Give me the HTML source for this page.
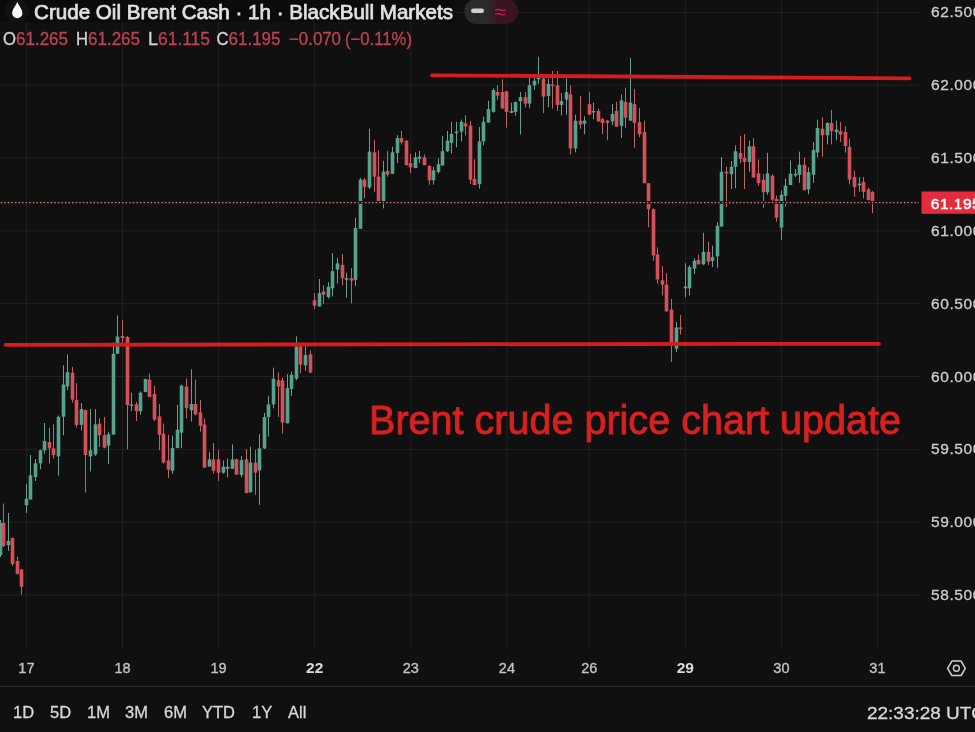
<!DOCTYPE html>
<html><head><meta charset="utf-8"><style>
html,body{margin:0;padding:0;background:#101010;width:975px;height:732px;overflow:hidden}
svg{position:absolute;left:0;top:0;display:block;filter:blur(0.4px)}
text{font-family:"Liberation Sans",sans-serif}
.pl{font-size:15.5px;fill:#cdcdcd;stroke:#cdcdcd;stroke-width:0.3px;letter-spacing:0.6px}
.tl{font-size:14.5px;fill:#c2c2c2;stroke:#c2c2c2;stroke-width:0.35px}
.b{font-weight:bold;font-size:15.5px;fill:#dadada;stroke:none}
.bb{font-size:16.5px;fill:#d8d8d8;stroke:#d8d8d8;stroke-width:0.3px}
</style></head><body>
<svg width="975" height="732" viewBox="0 0 975 732">
<rect width="975" height="732" fill="#101010"/>
<rect x="0" y="11.8" width="921" height="1" fill="#222222"/>
<rect x="0" y="84.6" width="921" height="1" fill="#222222"/>
<rect x="0" y="157.5" width="921" height="1" fill="#222222"/>
<rect x="0" y="230.3" width="921" height="1" fill="#222222"/>
<rect x="0" y="303.2" width="921" height="1" fill="#222222"/>
<rect x="0" y="376.0" width="921" height="1" fill="#222222"/>
<rect x="0" y="448.9" width="921" height="1" fill="#222222"/>
<rect x="0" y="521.7" width="921" height="1" fill="#222222"/>
<rect x="0" y="594.6" width="921" height="1" fill="#222222"/>
<rect x="25.9" y="0" width="1" height="649" fill="#222222"/>
<rect x="122.0" y="0" width="1" height="649" fill="#222222"/>
<rect x="218.1" y="0" width="1" height="649" fill="#222222"/>
<rect x="314.2" y="0" width="1" height="649" fill="#222222"/>
<rect x="410.3" y="0" width="1" height="649" fill="#222222"/>
<rect x="506.4" y="0" width="1" height="649" fill="#222222"/>
<rect x="588.7" y="0" width="1" height="649" fill="#222222"/>
<rect x="684.8" y="0" width="1" height="649" fill="#222222"/>
<rect x="780.9" y="0" width="1" height="649" fill="#222222"/>
<rect x="876.9" y="0" width="1" height="649" fill="#222222"/>
<g>
<rect x="0" y="520.0" width="1" height="37.0" fill="#6a9e90"/>
<rect x="-1.3" y="523.0" width="3.6" height="32.0" fill="#55a38d"/>
<rect x="3" y="503.6" width="1" height="43.4" fill="#c0646c"/>
<rect x="1.7" y="523.0" width="3.6" height="23.0" fill="#d6505a"/>
<rect x="8" y="513.0" width="1" height="38.0" fill="#6a9e90"/>
<rect x="6.7" y="540.9" width="3.6" height="4.3" fill="#55a38d"/>
<rect x="12" y="537.3" width="1" height="28.7" fill="#c0646c"/>
<rect x="10.7" y="538.0" width="3.6" height="25.9" fill="#d6505a"/>
<rect x="17" y="556.7" width="1" height="17.8" fill="#c0646c"/>
<rect x="15.7" y="561.0" width="3.6" height="12.9" fill="#d6505a"/>
<rect x="21" y="568.9" width="1" height="25.8" fill="#c0646c"/>
<rect x="19.7" y="569.6" width="3.6" height="17.2" fill="#d6505a"/>
<rect x="26" y="483.8" width="1" height="29.2" fill="#6a9e90"/>
<rect x="24.7" y="498.7" width="3.6" height="6.6" fill="#55a38d"/>
<rect x="30" y="455.0" width="1" height="44.5" fill="#6a9e90"/>
<rect x="28.7" y="475.3" width="3.6" height="24.2" fill="#55a38d"/>
<rect x="35" y="459.0" width="1" height="22.0" fill="#6a9e90"/>
<rect x="33.7" y="463.3" width="3.6" height="13.7" fill="#55a38d"/>
<rect x="40" y="449.6" width="1" height="19.8" fill="#6a9e90"/>
<rect x="38.7" y="450.3" width="3.6" height="13.0" fill="#55a38d"/>
<rect x="44" y="423.0" width="1" height="30.7" fill="#6a9e90"/>
<rect x="42.7" y="441.0" width="3.6" height="9.3" fill="#55a38d"/>
<rect x="49" y="427.8" width="1" height="35.7" fill="#c0646c"/>
<rect x="47.7" y="442.0" width="3.6" height="6.3" fill="#d6505a"/>
<rect x="53" y="424.3" width="1" height="34.2" fill="#c0646c"/>
<rect x="51.7" y="448.3" width="3.6" height="6.7" fill="#d6505a"/>
<rect x="58" y="415.5" width="1" height="60.1" fill="#6a9e90"/>
<rect x="56.7" y="416.8" width="3.6" height="39.6" fill="#55a38d"/>
<rect x="63" y="365.3" width="1" height="69.9" fill="#6a9e90"/>
<rect x="61.7" y="384.5" width="3.6" height="32.2" fill="#55a38d"/>
<rect x="67" y="354.4" width="1" height="35.6" fill="#6a9e90"/>
<rect x="65.7" y="372.2" width="3.6" height="14.3" fill="#55a38d"/>
<rect x="72" y="366.7" width="1" height="35.9" fill="#c0646c"/>
<rect x="70.7" y="372.8" width="3.6" height="26.8" fill="#d6505a"/>
<rect x="76" y="383.1" width="1" height="44.5" fill="#c0646c"/>
<rect x="74.7" y="400.0" width="3.6" height="25.0" fill="#d6505a"/>
<rect x="81" y="403.0" width="1" height="27.4" fill="#6a9e90"/>
<rect x="79.7" y="409.1" width="3.6" height="15.7" fill="#55a38d"/>
<rect x="85" y="409.8" width="1" height="82.8" fill="#c0646c"/>
<rect x="83.7" y="410.1" width="3.6" height="44.9" fill="#d6505a"/>
<rect x="90" y="409.1" width="1" height="62.4" fill="#6a9e90"/>
<rect x="88.7" y="450.3" width="3.6" height="6.1" fill="#55a38d"/>
<rect x="95" y="409.1" width="1" height="46.9" fill="#6a9e90"/>
<rect x="93.7" y="424.4" width="3.6" height="30.0" fill="#55a38d"/>
<rect x="99" y="418.2" width="1" height="28.7" fill="#c0646c"/>
<rect x="97.7" y="423.8" width="3.6" height="11.4" fill="#d6505a"/>
<rect x="104" y="417.0" width="1" height="31.3" fill="#c0646c"/>
<rect x="102.7" y="435.2" width="3.6" height="12.4" fill="#d6505a"/>
<rect x="108" y="431.8" width="1" height="32.2" fill="#6a9e90"/>
<rect x="106.7" y="434.2" width="3.6" height="11.4" fill="#55a38d"/>
<rect x="113" y="342.1" width="1" height="92.5" fill="#6a9e90"/>
<rect x="111.7" y="353.7" width="3.6" height="80.9" fill="#55a38d"/>
<rect x="117" y="315.5" width="1" height="38.2" fill="#6a9e90"/>
<rect x="115.7" y="336.6" width="3.6" height="17.1" fill="#55a38d"/>
<rect x="122" y="320.2" width="1" height="22.6" fill="#c0646c"/>
<rect x="120.7" y="336.0" width="3.6" height="2.0" fill="#d6505a"/>
<rect x="127" y="336.0" width="1" height="113.4" fill="#c0646c"/>
<rect x="125.7" y="337.0" width="3.6" height="68.0" fill="#d6505a"/>
<rect x="131" y="392.7" width="1" height="18.4" fill="#6a9e90"/>
<rect x="129.7" y="404.4" width="3.6" height="1.5" fill="#55a38d"/>
<rect x="136" y="401.9" width="1" height="19.1" fill="#c0646c"/>
<rect x="134.7" y="404.4" width="3.6" height="6.7" fill="#d6505a"/>
<rect x="140" y="391.4" width="1" height="23.4" fill="#6a9e90"/>
<rect x="138.7" y="392.7" width="3.6" height="18.4" fill="#55a38d"/>
<rect x="145" y="378.5" width="1" height="13.6" fill="#6a9e90"/>
<rect x="143.7" y="379.1" width="3.6" height="13.0" fill="#55a38d"/>
<rect x="149" y="373.5" width="1" height="23.5" fill="#c0646c"/>
<rect x="147.7" y="379.7" width="3.6" height="17.3" fill="#d6505a"/>
<rect x="154" y="385.5" width="1" height="35.5" fill="#c0646c"/>
<rect x="152.7" y="393.9" width="3.6" height="25.7" fill="#d6505a"/>
<rect x="159" y="404.0" width="1" height="46.2" fill="#c0646c"/>
<rect x="157.7" y="416.4" width="3.6" height="18.4" fill="#d6505a"/>
<rect x="163" y="423.5" width="1" height="40.0" fill="#c0646c"/>
<rect x="161.7" y="433.8" width="3.6" height="28.7" fill="#d6505a"/>
<rect x="168" y="434.8" width="1" height="43.0" fill="#c0646c"/>
<rect x="166.7" y="460.4" width="3.6" height="9.2" fill="#d6505a"/>
<rect x="172" y="435.8" width="1" height="37.9" fill="#6a9e90"/>
<rect x="170.7" y="448.1" width="3.6" height="22.6" fill="#55a38d"/>
<rect x="177" y="405.0" width="1" height="43.1" fill="#6a9e90"/>
<rect x="175.7" y="429.7" width="3.6" height="18.4" fill="#55a38d"/>
<rect x="181" y="384.6" width="1" height="63.5" fill="#6a9e90"/>
<rect x="179.7" y="385.6" width="3.6" height="47.1" fill="#55a38d"/>
<rect x="186" y="378.4" width="1" height="40.0" fill="#c0646c"/>
<rect x="184.7" y="386.6" width="3.6" height="21.6" fill="#d6505a"/>
<rect x="191" y="369.2" width="1" height="52.3" fill="#6a9e90"/>
<rect x="189.7" y="404.0" width="3.6" height="6.2" fill="#55a38d"/>
<rect x="195" y="379.5" width="1" height="35.8" fill="#c0646c"/>
<rect x="193.7" y="404.0" width="3.6" height="10.3" fill="#d6505a"/>
<rect x="200" y="400.0" width="1" height="31.7" fill="#c0646c"/>
<rect x="198.7" y="412.3" width="3.6" height="13.3" fill="#d6505a"/>
<rect x="204" y="418.4" width="1" height="49.2" fill="#c0646c"/>
<rect x="202.7" y="424.5" width="3.6" height="43.1" fill="#d6505a"/>
<rect x="209" y="452.2" width="1" height="14.4" fill="#6a9e90"/>
<rect x="207.7" y="459.4" width="3.6" height="7.2" fill="#55a38d"/>
<rect x="213" y="443.0" width="1" height="30.7" fill="#c0646c"/>
<rect x="211.7" y="459.4" width="3.6" height="11.3" fill="#d6505a"/>
<rect x="218" y="450.2" width="1" height="30.7" fill="#c0646c"/>
<rect x="216.7" y="459.4" width="3.6" height="13.3" fill="#d6505a"/>
<rect x="223" y="460.4" width="1" height="13.3" fill="#6a9e90"/>
<rect x="221.7" y="466.6" width="3.6" height="6.1" fill="#55a38d"/>
<rect x="227" y="458.6" width="1" height="18.8" fill="#6a9e90"/>
<rect x="225.7" y="466.8" width="3.6" height="2.0" fill="#55a38d"/>
<rect x="232" y="444.3" width="1" height="24.5" fill="#6a9e90"/>
<rect x="230.7" y="459.4" width="3.6" height="9.4" fill="#55a38d"/>
<rect x="236" y="458.5" width="1" height="16.5" fill="#c0646c"/>
<rect x="234.7" y="459.4" width="3.6" height="15.1" fill="#d6505a"/>
<rect x="241" y="456.2" width="1" height="21.2" fill="#6a9e90"/>
<rect x="239.7" y="460.1" width="3.6" height="14.9" fill="#55a38d"/>
<rect x="246" y="449.2" width="1" height="43.9" fill="#c0646c"/>
<rect x="244.7" y="459.4" width="3.6" height="33.7" fill="#d6505a"/>
<rect x="250" y="446.8" width="1" height="45.5" fill="#6a9e90"/>
<rect x="248.7" y="462.5" width="3.6" height="29.8" fill="#55a38d"/>
<rect x="255" y="450.0" width="1" height="44.7" fill="#c0646c"/>
<rect x="253.7" y="462.5" width="3.6" height="10.2" fill="#d6505a"/>
<rect x="259" y="434.2" width="1" height="70.7" fill="#6a9e90"/>
<rect x="257.7" y="448.4" width="3.6" height="22.0" fill="#55a38d"/>
<rect x="264" y="413.0" width="1" height="36.0" fill="#6a9e90"/>
<rect x="262.7" y="417.0" width="3.6" height="31.4" fill="#55a38d"/>
<rect x="268" y="395.8" width="1" height="40.8" fill="#6a9e90"/>
<rect x="266.7" y="404.4" width="3.6" height="12.6" fill="#55a38d"/>
<rect x="273" y="367.7" width="1" height="40.6" fill="#6a9e90"/>
<rect x="271.7" y="378.7" width="3.6" height="25.7" fill="#55a38d"/>
<rect x="278" y="372.4" width="1" height="44.6" fill="#c0646c"/>
<rect x="276.7" y="380.3" width="3.6" height="6.2" fill="#d6505a"/>
<rect x="282" y="378.0" width="1" height="55.5" fill="#c0646c"/>
<rect x="280.7" y="380.3" width="3.6" height="42.2" fill="#d6505a"/>
<rect x="287" y="374.0" width="1" height="49.3" fill="#6a9e90"/>
<rect x="285.7" y="388.1" width="3.6" height="35.2" fill="#55a38d"/>
<rect x="291" y="371.6" width="1" height="24.4" fill="#6a9e90"/>
<rect x="289.7" y="374.8" width="3.6" height="14.1" fill="#55a38d"/>
<rect x="296" y="336.3" width="1" height="44.0" fill="#6a9e90"/>
<rect x="294.7" y="346.5" width="3.6" height="32.2" fill="#55a38d"/>
<rect x="300" y="346.5" width="1" height="26.7" fill="#c0646c"/>
<rect x="298.7" y="346.5" width="3.6" height="18.1" fill="#d6505a"/>
<rect x="305" y="346.5" width="1" height="24.3" fill="#6a9e90"/>
<rect x="303.7" y="355.1" width="3.6" height="10.3" fill="#55a38d"/>
<rect x="310" y="350.4" width="1" height="22.8" fill="#c0646c"/>
<rect x="308.7" y="354.4" width="3.6" height="18.0" fill="#d6505a"/>
<rect x="314" y="293.1" width="1" height="15.7" fill="#c0646c"/>
<rect x="312.7" y="300.2" width="3.6" height="5.5" fill="#d6505a"/>
<rect x="319" y="279.0" width="1" height="27.5" fill="#6a9e90"/>
<rect x="317.7" y="293.1" width="3.6" height="13.4" fill="#55a38d"/>
<rect x="323" y="285.3" width="1" height="18.8" fill="#c0646c"/>
<rect x="321.7" y="291.5" width="3.6" height="3.2" fill="#d6505a"/>
<rect x="328" y="282.1" width="1" height="16.5" fill="#6a9e90"/>
<rect x="326.7" y="286.8" width="3.6" height="10.2" fill="#55a38d"/>
<rect x="332" y="253.1" width="1" height="43.2" fill="#6a9e90"/>
<rect x="330.7" y="271.1" width="3.6" height="17.3" fill="#55a38d"/>
<rect x="337" y="257.8" width="1" height="25.9" fill="#6a9e90"/>
<rect x="335.7" y="263.3" width="3.6" height="6.3" fill="#55a38d"/>
<rect x="342" y="253.9" width="1" height="31.4" fill="#c0646c"/>
<rect x="340.7" y="264.9" width="3.6" height="13.3" fill="#d6505a"/>
<rect x="346" y="272.7" width="1" height="25.1" fill="#6a9e90"/>
<rect x="344.7" y="278.2" width="3.6" height="1.6" fill="#55a38d"/>
<rect x="351" y="268.0" width="1" height="35.3" fill="#c0646c"/>
<rect x="349.7" y="278.2" width="3.6" height="2.4" fill="#d6505a"/>
<rect x="355" y="217.8" width="1" height="68.2" fill="#6a9e90"/>
<rect x="353.7" y="228.0" width="3.6" height="51.8" fill="#55a38d"/>
<rect x="360" y="178.1" width="1" height="50.7" fill="#6a9e90"/>
<rect x="358.7" y="179.6" width="3.6" height="49.2" fill="#55a38d"/>
<rect x="364" y="178.1" width="1" height="20.1" fill="#c0646c"/>
<rect x="362.7" y="179.6" width="3.6" height="7.2" fill="#d6505a"/>
<rect x="369" y="128.7" width="1" height="60.2" fill="#6a9e90"/>
<rect x="367.7" y="151.6" width="3.6" height="35.9" fill="#55a38d"/>
<rect x="374" y="140.1" width="1" height="51.7" fill="#c0646c"/>
<rect x="372.7" y="152.3" width="3.6" height="24.4" fill="#d6505a"/>
<rect x="378" y="150.2" width="1" height="53.1" fill="#c0646c"/>
<rect x="376.7" y="176.7" width="3.6" height="26.6" fill="#d6505a"/>
<rect x="383" y="160.9" width="1" height="47.4" fill="#6a9e90"/>
<rect x="381.7" y="171.7" width="3.6" height="31.6" fill="#55a38d"/>
<rect x="387" y="150.9" width="1" height="25.8" fill="#c0646c"/>
<rect x="385.7" y="171.0" width="3.6" height="3.6" fill="#d6505a"/>
<rect x="392" y="146.6" width="1" height="27.2" fill="#6a9e90"/>
<rect x="390.7" y="152.3" width="3.6" height="21.5" fill="#55a38d"/>
<rect x="397" y="135.1" width="1" height="28.0" fill="#6a9e90"/>
<rect x="395.7" y="138.0" width="3.6" height="15.0" fill="#55a38d"/>
<rect x="401" y="130.8" width="1" height="13.6" fill="#c0646c"/>
<rect x="399.7" y="138.0" width="3.6" height="4.3" fill="#d6505a"/>
<rect x="406" y="140.1" width="1" height="25.1" fill="#c0646c"/>
<rect x="404.7" y="140.8" width="3.6" height="24.4" fill="#d6505a"/>
<rect x="410" y="153.8" width="1" height="19.3" fill="#c0646c"/>
<rect x="408.7" y="163.1" width="3.6" height="4.3" fill="#d6505a"/>
<rect x="415" y="152.3" width="1" height="15.8" fill="#6a9e90"/>
<rect x="413.7" y="157.3" width="3.6" height="10.8" fill="#55a38d"/>
<rect x="419" y="150.9" width="1" height="12.2" fill="#6a9e90"/>
<rect x="417.7" y="156.6" width="3.6" height="2.2" fill="#55a38d"/>
<rect x="424" y="154.5" width="1" height="10.7" fill="#c0646c"/>
<rect x="422.7" y="157.3" width="3.6" height="7.9" fill="#d6505a"/>
<rect x="429" y="165.2" width="1" height="19.4" fill="#c0646c"/>
<rect x="427.7" y="166.0" width="3.6" height="14.3" fill="#d6505a"/>
<rect x="433" y="166.7" width="1" height="17.9" fill="#6a9e90"/>
<rect x="431.7" y="170.3" width="3.6" height="10.0" fill="#55a38d"/>
<rect x="438" y="158.4" width="1" height="15.3" fill="#6a9e90"/>
<rect x="436.7" y="164.2" width="3.6" height="7.8" fill="#55a38d"/>
<rect x="442" y="136.1" width="1" height="29.4" fill="#6a9e90"/>
<rect x="440.7" y="151.2" width="3.6" height="14.3" fill="#55a38d"/>
<rect x="447" y="130.9" width="1" height="21.0" fill="#6a9e90"/>
<rect x="445.7" y="140.6" width="3.6" height="10.6" fill="#55a38d"/>
<rect x="451" y="121.8" width="1" height="31.6" fill="#6a9e90"/>
<rect x="449.7" y="133.9" width="3.6" height="9.0" fill="#55a38d"/>
<rect x="456" y="121.8" width="1" height="25.6" fill="#6a9e90"/>
<rect x="454.7" y="131.6" width="3.6" height="1.5" fill="#55a38d"/>
<rect x="461" y="119.6" width="1" height="21.8" fill="#6a9e90"/>
<rect x="459.7" y="121.8" width="3.6" height="9.8" fill="#55a38d"/>
<rect x="465" y="115.1" width="1" height="20.3" fill="#c0646c"/>
<rect x="463.7" y="123.3" width="3.6" height="3.1" fill="#d6505a"/>
<rect x="470" y="121.1" width="1" height="63.1" fill="#c0646c"/>
<rect x="468.7" y="125.6" width="3.6" height="54.1" fill="#d6505a"/>
<rect x="474" y="159.4" width="1" height="25.6" fill="#c0646c"/>
<rect x="472.7" y="179.0" width="3.6" height="6.0" fill="#d6505a"/>
<rect x="479" y="127.1" width="1" height="61.7" fill="#6a9e90"/>
<rect x="477.7" y="141.4" width="3.6" height="42.8" fill="#55a38d"/>
<rect x="483" y="116.6" width="1" height="28.6" fill="#6a9e90"/>
<rect x="481.7" y="121.8" width="3.6" height="19.6" fill="#55a38d"/>
<rect x="488" y="100.8" width="1" height="21.8" fill="#6a9e90"/>
<rect x="486.7" y="109.1" width="3.6" height="13.5" fill="#55a38d"/>
<rect x="493" y="88.3" width="1" height="24.5" fill="#6a9e90"/>
<rect x="491.7" y="90.0" width="3.6" height="21.9" fill="#55a38d"/>
<rect x="497" y="85.2" width="1" height="15.0" fill="#c0646c"/>
<rect x="495.7" y="92.0" width="3.6" height="3.7" fill="#d6505a"/>
<rect x="502" y="79.3" width="1" height="29.2" fill="#c0646c"/>
<rect x="500.7" y="92.0" width="3.6" height="16.5" fill="#d6505a"/>
<rect x="506" y="91.2" width="1" height="36.4" fill="#c0646c"/>
<rect x="504.7" y="91.2" width="3.6" height="20.7" fill="#d6505a"/>
<rect x="511" y="102.8" width="1" height="10.4" fill="#6a9e90"/>
<rect x="509.7" y="111.0" width="3.6" height="1.8" fill="#55a38d"/>
<rect x="515" y="101.3" width="1" height="14.3" fill="#6a9e90"/>
<rect x="513.7" y="102.1" width="3.6" height="9.8" fill="#55a38d"/>
<rect x="520" y="92.0" width="1" height="42.4" fill="#6a9e90"/>
<rect x="518.7" y="97.2" width="3.6" height="4.1" fill="#55a38d"/>
<rect x="525" y="92.0" width="1" height="15.4" fill="#c0646c"/>
<rect x="523.7" y="97.2" width="3.6" height="6.4" fill="#d6505a"/>
<rect x="529" y="77.8" width="1" height="30.3" fill="#6a9e90"/>
<rect x="527.7" y="85.2" width="3.6" height="18.4" fill="#55a38d"/>
<rect x="534" y="74.1" width="1" height="15.7" fill="#6a9e90"/>
<rect x="532.7" y="80.8" width="3.6" height="4.5" fill="#55a38d"/>
<rect x="538" y="56.8" width="1" height="27.0" fill="#6a9e90"/>
<rect x="536.7" y="77.8" width="3.6" height="1.5" fill="#55a38d"/>
<rect x="543" y="77.1" width="1" height="36.1" fill="#c0646c"/>
<rect x="541.7" y="78.6" width="3.6" height="18.0" fill="#d6505a"/>
<rect x="548" y="78.6" width="1" height="28.5" fill="#6a9e90"/>
<rect x="546.7" y="83.8" width="3.6" height="12.1" fill="#55a38d"/>
<rect x="552" y="71.0" width="1" height="37.6" fill="#c0646c"/>
<rect x="550.7" y="84.6" width="3.6" height="1.5" fill="#d6505a"/>
<rect x="557" y="71.0" width="1" height="39.9" fill="#c0646c"/>
<rect x="555.7" y="85.3" width="3.6" height="19.6" fill="#d6505a"/>
<rect x="561" y="92.9" width="1" height="22.5" fill="#6a9e90"/>
<rect x="559.7" y="101.1" width="3.6" height="3.8" fill="#55a38d"/>
<rect x="566" y="78.6" width="1" height="36.1" fill="#6a9e90"/>
<rect x="564.7" y="92.1" width="3.6" height="7.5" fill="#55a38d"/>
<rect x="570" y="85.3" width="1" height="69.2" fill="#c0646c"/>
<rect x="568.7" y="94.4" width="3.6" height="54.1" fill="#d6505a"/>
<rect x="575" y="114.7" width="1" height="37.6" fill="#6a9e90"/>
<rect x="573.7" y="120.7" width="3.6" height="27.8" fill="#55a38d"/>
<rect x="580" y="95.9" width="1" height="33.0" fill="#c0646c"/>
<rect x="578.7" y="120.7" width="3.6" height="3.7" fill="#d6505a"/>
<rect x="584" y="116.2" width="1" height="18.0" fill="#6a9e90"/>
<rect x="582.7" y="120.7" width="3.6" height="3.0" fill="#55a38d"/>
<rect x="589" y="92.1" width="1" height="22.6" fill="#c0646c"/>
<rect x="587.7" y="104.1" width="3.6" height="10.6" fill="#d6505a"/>
<rect x="593" y="102.6" width="1" height="16.6" fill="#6a9e90"/>
<rect x="591.7" y="110.9" width="3.6" height="1.5" fill="#55a38d"/>
<rect x="598" y="108.6" width="1" height="12.8" fill="#c0646c"/>
<rect x="596.7" y="110.9" width="3.6" height="10.5" fill="#d6505a"/>
<rect x="602" y="117.7" width="1" height="16.5" fill="#c0646c"/>
<rect x="600.7" y="119.2" width="3.6" height="3.7" fill="#d6505a"/>
<rect x="607" y="119.9" width="1" height="20.3" fill="#c0646c"/>
<rect x="605.7" y="120.7" width="3.6" height="2.2" fill="#d6505a"/>
<rect x="612" y="104.1" width="1" height="21.1" fill="#6a9e90"/>
<rect x="610.7" y="113.9" width="3.6" height="7.5" fill="#55a38d"/>
<rect x="616" y="101.9" width="1" height="24.8" fill="#c0646c"/>
<rect x="614.7" y="110.9" width="3.6" height="15.8" fill="#d6505a"/>
<rect x="621" y="94.4" width="1" height="43.6" fill="#6a9e90"/>
<rect x="619.7" y="100.4" width="3.6" height="25.5" fill="#55a38d"/>
<rect x="625" y="87.6" width="1" height="40.6" fill="#c0646c"/>
<rect x="623.7" y="101.9" width="3.6" height="15.8" fill="#d6505a"/>
<rect x="630" y="58.3" width="1" height="62.4" fill="#6a9e90"/>
<rect x="628.7" y="102.6" width="3.6" height="18.1" fill="#55a38d"/>
<rect x="634" y="89.1" width="1" height="58.7" fill="#c0646c"/>
<rect x="632.7" y="104.1" width="3.6" height="18.8" fill="#d6505a"/>
<rect x="639" y="107.9" width="1" height="29.3" fill="#c0646c"/>
<rect x="637.7" y="122.2" width="3.6" height="12.0" fill="#d6505a"/>
<rect x="644" y="120.7" width="1" height="62.5" fill="#c0646c"/>
<rect x="642.7" y="132.0" width="3.6" height="51.2" fill="#d6505a"/>
<rect x="648" y="183.2" width="1" height="44.1" fill="#c0646c"/>
<rect x="646.7" y="183.2" width="3.6" height="26.0" fill="#d6505a"/>
<rect x="653" y="208.5" width="1" height="52.3" fill="#c0646c"/>
<rect x="651.7" y="209.2" width="3.6" height="46.2" fill="#d6505a"/>
<rect x="657" y="247.4" width="1" height="36.4" fill="#c0646c"/>
<rect x="655.7" y="254.5" width="3.6" height="24.9" fill="#d6505a"/>
<rect x="662" y="266.1" width="1" height="29.3" fill="#c0646c"/>
<rect x="660.7" y="280.3" width="3.6" height="4.4" fill="#d6505a"/>
<rect x="666" y="273.2" width="1" height="38.2" fill="#c0646c"/>
<rect x="664.7" y="284.7" width="3.6" height="26.7" fill="#d6505a"/>
<rect x="671" y="299.0" width="1" height="63.0" fill="#c0646c"/>
<rect x="669.7" y="309.6" width="3.6" height="36.4" fill="#d6505a"/>
<rect x="676" y="322.0" width="1" height="30.2" fill="#6a9e90"/>
<rect x="674.7" y="327.4" width="3.6" height="21.3" fill="#55a38d"/>
<rect x="680" y="314.9" width="1" height="19.6" fill="#c0646c"/>
<rect x="678.7" y="327.4" width="3.6" height="1.7" fill="#d6505a"/>
<rect x="685" y="263.4" width="1" height="33.8" fill="#6a9e90"/>
<rect x="683.7" y="286.5" width="3.6" height="1.8" fill="#55a38d"/>
<rect x="689" y="265.2" width="1" height="30.2" fill="#6a9e90"/>
<rect x="687.7" y="267.0" width="3.6" height="21.3" fill="#55a38d"/>
<rect x="694" y="258.1" width="1" height="15.9" fill="#6a9e90"/>
<rect x="692.7" y="260.8" width="3.6" height="7.9" fill="#55a38d"/>
<rect x="698" y="254.5" width="1" height="9.8" fill="#c0646c"/>
<rect x="696.7" y="259.9" width="3.6" height="4.4" fill="#d6505a"/>
<rect x="703" y="232.8" width="1" height="32.4" fill="#6a9e90"/>
<rect x="701.7" y="251.9" width="3.6" height="12.4" fill="#55a38d"/>
<rect x="708" y="241.6" width="1" height="23.6" fill="#c0646c"/>
<rect x="706.7" y="251.9" width="3.6" height="9.7" fill="#d6505a"/>
<rect x="712" y="245.7" width="1" height="21.3" fill="#6a9e90"/>
<rect x="710.7" y="257.2" width="3.6" height="3.6" fill="#55a38d"/>
<rect x="717" y="222.0" width="1" height="45.9" fill="#6a9e90"/>
<rect x="715.7" y="225.8" width="3.6" height="30.5" fill="#55a38d"/>
<rect x="721" y="157.0" width="1" height="69.6" fill="#6a9e90"/>
<rect x="719.7" y="171.7" width="3.6" height="54.9" fill="#55a38d"/>
<rect x="726" y="166.8" width="1" height="40.2" fill="#c0646c"/>
<rect x="724.7" y="171.7" width="3.6" height="1.7" fill="#d6505a"/>
<rect x="731" y="161.1" width="1" height="27.9" fill="#6a9e90"/>
<rect x="729.7" y="166.8" width="3.6" height="7.4" fill="#55a38d"/>
<rect x="735" y="145.5" width="1" height="42.6" fill="#6a9e90"/>
<rect x="733.7" y="151.2" width="3.6" height="15.6" fill="#55a38d"/>
<rect x="740" y="135.7" width="1" height="27.8" fill="#c0646c"/>
<rect x="738.7" y="152.9" width="3.6" height="5.7" fill="#d6505a"/>
<rect x="744" y="134.0" width="1" height="55.0" fill="#c0646c"/>
<rect x="742.7" y="157.8" width="3.6" height="4.1" fill="#d6505a"/>
<rect x="749" y="140.6" width="1" height="31.1" fill="#6a9e90"/>
<rect x="747.7" y="146.3" width="3.6" height="15.6" fill="#55a38d"/>
<rect x="753" y="138.1" width="1" height="39.4" fill="#c0646c"/>
<rect x="751.7" y="146.3" width="3.6" height="31.2" fill="#d6505a"/>
<rect x="758" y="159.4" width="1" height="26.3" fill="#c0646c"/>
<rect x="756.7" y="173.4" width="3.6" height="9.8" fill="#d6505a"/>
<rect x="763" y="174.2" width="1" height="33.6" fill="#c0646c"/>
<rect x="761.7" y="179.9" width="3.6" height="12.3" fill="#d6505a"/>
<rect x="767" y="152.9" width="1" height="41.8" fill="#6a9e90"/>
<rect x="765.7" y="173.4" width="3.6" height="18.8" fill="#55a38d"/>
<rect x="772" y="174.2" width="1" height="27.8" fill="#c0646c"/>
<rect x="770.7" y="175.8" width="3.6" height="23.8" fill="#d6505a"/>
<rect x="776" y="195.5" width="1" height="26.2" fill="#c0646c"/>
<rect x="774.7" y="198.8" width="3.6" height="18.8" fill="#d6505a"/>
<rect x="781" y="190.6" width="1" height="49.2" fill="#6a9e90"/>
<rect x="779.7" y="194.7" width="3.6" height="32.8" fill="#55a38d"/>
<rect x="785" y="178.6" width="1" height="27.7" fill="#6a9e90"/>
<rect x="783.7" y="185.5" width="3.6" height="10.3" fill="#55a38d"/>
<rect x="790" y="160.5" width="1" height="24.5" fill="#6a9e90"/>
<rect x="788.7" y="173.7" width="3.6" height="11.3" fill="#55a38d"/>
<rect x="795" y="168.9" width="1" height="8.2" fill="#6a9e90"/>
<rect x="793.7" y="173.9" width="3.6" height="1.6" fill="#55a38d"/>
<rect x="799" y="151.7" width="1" height="31.2" fill="#6a9e90"/>
<rect x="797.7" y="164.8" width="3.6" height="9.9" fill="#55a38d"/>
<rect x="804" y="157.5" width="1" height="32.7" fill="#c0646c"/>
<rect x="802.7" y="164.8" width="3.6" height="25.4" fill="#d6505a"/>
<rect x="808" y="167.3" width="1" height="27.0" fill="#6a9e90"/>
<rect x="806.7" y="172.2" width="3.6" height="17.2" fill="#55a38d"/>
<rect x="813" y="141.9" width="1" height="41.0" fill="#6a9e90"/>
<rect x="811.7" y="150.1" width="3.6" height="24.6" fill="#55a38d"/>
<rect x="817" y="119.8" width="1" height="37.7" fill="#6a9e90"/>
<rect x="815.7" y="128.0" width="3.6" height="24.5" fill="#55a38d"/>
<rect x="822" y="117.3" width="1" height="39.3" fill="#c0646c"/>
<rect x="820.7" y="128.8" width="3.6" height="6.5" fill="#d6505a"/>
<rect x="827" y="122.2" width="1" height="22.1" fill="#6a9e90"/>
<rect x="825.7" y="123.0" width="3.6" height="12.3" fill="#55a38d"/>
<rect x="831" y="109.9" width="1" height="34.4" fill="#c0646c"/>
<rect x="829.7" y="123.0" width="3.6" height="8.2" fill="#d6505a"/>
<rect x="836" y="120.6" width="1" height="19.6" fill="#6a9e90"/>
<rect x="834.7" y="129.6" width="3.6" height="2.4" fill="#55a38d"/>
<rect x="840" y="122.2" width="1" height="19.7" fill="#c0646c"/>
<rect x="838.7" y="131.2" width="3.6" height="3.3" fill="#d6505a"/>
<rect x="845" y="126.3" width="1" height="26.2" fill="#c0646c"/>
<rect x="843.7" y="132.0" width="3.6" height="14.0" fill="#d6505a"/>
<rect x="849" y="138.6" width="1" height="45.9" fill="#c0646c"/>
<rect x="847.7" y="146.8" width="3.6" height="32.8" fill="#d6505a"/>
<rect x="854" y="170.6" width="1" height="26.2" fill="#c0646c"/>
<rect x="852.7" y="177.1" width="3.6" height="9.9" fill="#d6505a"/>
<rect x="859" y="177.1" width="1" height="14.8" fill="#6a9e90"/>
<rect x="857.7" y="183.7" width="3.6" height="1.6" fill="#55a38d"/>
<rect x="863" y="177.1" width="1" height="21.3" fill="#c0646c"/>
<rect x="861.7" y="182.0" width="3.6" height="9.9" fill="#d6505a"/>
<rect x="868" y="187.8" width="1" height="12.3" fill="#c0646c"/>
<rect x="866.7" y="189.4" width="3.6" height="10.7" fill="#d6505a"/>
<rect x="872" y="191.1" width="1" height="22.1" fill="#c0646c"/>
<rect x="870.7" y="191.9" width="3.6" height="10.6" fill="#d6505a"/>
</g>
<line x1="0" y1="202.6" x2="919" y2="202.6" stroke="#221010" stroke-width="3"/>
<line x1="0" y1="202.6" x2="919" y2="202.6" stroke="#c08a7e" stroke-width="1.3" stroke-dasharray="1.4 2.17" stroke-dashoffset="-0.75"/>
<line x1="432" y1="75.3" x2="909.5" y2="78.3" stroke="#d61c1c" stroke-width="3.8" stroke-linecap="round"/>
<line x1="5.5" y1="344.8" x2="879" y2="343.8" stroke="#d61c1c" stroke-width="3.8" stroke-linecap="round"/>
<text x="931" y="17.3" class="pl">62.500</text>
<text x="931" y="90.1" class="pl">62.000</text>
<text x="931" y="163.0" class="pl">61.500</text>
<text x="931" y="235.8" class="pl">61.000</text>
<text x="931" y="308.7" class="pl">60.500</text>
<text x="931" y="381.5" class="pl">60.000</text>
<text x="931" y="454.4" class="pl">59.500</text>
<text x="931" y="527.2" class="pl">59.000</text>
<text x="931" y="600.1" class="pl">58.500</text>
<rect x="921.5" y="191.5" width="54" height="22.3" fill="#e62b3d"/>
<text x="930.8" y="209" style="font-size:15.5px;fill:#ffffff;stroke:#ffffff;stroke-width:0.5px;letter-spacing:0.5px">61.195</text>
<text x="26.4" y="673" class="tl" text-anchor="middle">17</text>
<text x="122.5" y="673" class="tl" text-anchor="middle">18</text>
<text x="218.6" y="673" class="tl" text-anchor="middle">19</text>
<text x="314.7" y="673" class="tl b" text-anchor="middle">22</text>
<text x="410.8" y="673" class="tl" text-anchor="middle">23</text>
<text x="506.9" y="673" class="tl" text-anchor="middle">24</text>
<text x="589.2" y="673" class="tl" text-anchor="middle">26</text>
<text x="685.3" y="673" class="tl b" text-anchor="middle">29</text>
<text x="781.4" y="673" class="tl" text-anchor="middle">30</text>
<text x="877.4" y="673" class="tl" text-anchor="middle">31</text>
<rect x="0" y="685.8" width="975" height="1.1" fill="#2c2c2c"/>
<g class="bb">
<text x="13" y="718" class="bb">1D</text>
<text x="50" y="718" class="bb">5D</text>
<text x="87" y="718" class="bb">1M</text>
<text x="125" y="718" class="bb">3M</text>
<text x="164" y="718" class="bb">6M</text>
<text x="202" y="718" class="bb">YTD</text>
<text x="252" y="718" class="bb">1Y</text>
<text x="288" y="718" class="bb">All</text>
<text x="867" y="718.6" class="bb" textLength="118" lengthAdjust="spacingAndGlyphs" style="font-size:17px">22:33:28 UTC</text>
</g>
<text x="369" y="433.5" textLength="532" lengthAdjust="spacingAndGlyphs" style="font-size:40px;fill:#d92020;stroke:#d92020;stroke-width:0.9">Brent crude price chart update</text>
<!-- header -->
<rect x="0" y="0" width="455" height="22" fill="#0b0b0b"/>
<circle cx="17" cy="11" r="12" fill="#121212"/>
<path d="M17.3 2 C15.5 6 12.2 9.5 12.2 13.2 A5.1 5.1 0 0 0 22.4 13.2 C22.4 9.5 19.1 6 17.3 2 Z" fill="#ffffff"/>
<text x="34" y="18.8" textLength="419" lengthAdjust="spacingAndGlyphs" style="font-size:21px;fill:#e0e0e0;stroke:#e0e0e0;stroke-width:0.75px">Crude Oil Brent Cash · 1h · BlackBull Markets</text>
<rect x="464.5" y="-1" width="53" height="25" rx="12" fill="#2a2a2a"/>
<defs><linearGradient id="pg" x1="0" x2="1"><stop offset="0" stop-color="#2a2a2a"/><stop offset="0.35" stop-color="#3b1322"/><stop offset="1" stop-color="#3b1322"/></linearGradient></defs><path d="M487 -1 H505.5 A12 12 0 0 1 505.5 24 H487 Z" fill="url(#pg)"/>
<rect x="471" y="8.5" width="13" height="4.5" rx="2.2" fill="#cfcfcf"/>
<text x="494.5" y="18.5" style="font-size:21px;fill:#c8175a">≈</text>
<g style="font-size:18px;stroke-width:0.3px">
<text x="3" y="44.8" fill="#d4d4d4" stroke="#d4d4d4" textLength="13" lengthAdjust="spacingAndGlyphs">O</text><text x="16" y="44.8" fill="#c04350" stroke="#c04350" textLength="52" lengthAdjust="spacingAndGlyphs">61.265</text>
<text x="76" y="44.8" fill="#d4d4d4" stroke="#d4d4d4" textLength="12" lengthAdjust="spacingAndGlyphs">H</text><text x="88" y="44.8" fill="#c04350" stroke="#c04350" textLength="52" lengthAdjust="spacingAndGlyphs">61.265</text>
<text x="148" y="44.8" fill="#d4d4d4" stroke="#d4d4d4" textLength="10" lengthAdjust="spacingAndGlyphs">L</text><text x="158" y="44.8" fill="#c04350" stroke="#c04350" textLength="52" lengthAdjust="spacingAndGlyphs">61.115</text>
<text x="216.5" y="44.8" fill="#d4d4d4" stroke="#d4d4d4" textLength="12" lengthAdjust="spacingAndGlyphs">C</text><text x="228.5" y="44.8" fill="#c04350" stroke="#c04350" textLength="52" lengthAdjust="spacingAndGlyphs">61.195</text>
<text x="289" y="44.8" fill="#c04350" stroke="#c04350" textLength="52" lengthAdjust="spacingAndGlyphs">−0.070</text>
<text x="345" y="44.8" fill="#c04350" stroke="#c04350" textLength="67" lengthAdjust="spacingAndGlyphs">(−0.11%)</text>
</g>
<!-- settings icon -->
<path d="M947.6 668.3 L951.9 661.1 L961.1 661.1 L965.3 668.3 L961.1 675.5 L951.9 675.5 Z" fill="none" stroke="#d2d2d2" stroke-width="1.5" stroke-linejoin="round"/>
<circle cx="956.4" cy="668.3" r="3" fill="none" stroke="#d2d2d2" stroke-width="1.4"/>
</svg>
</body></html>
